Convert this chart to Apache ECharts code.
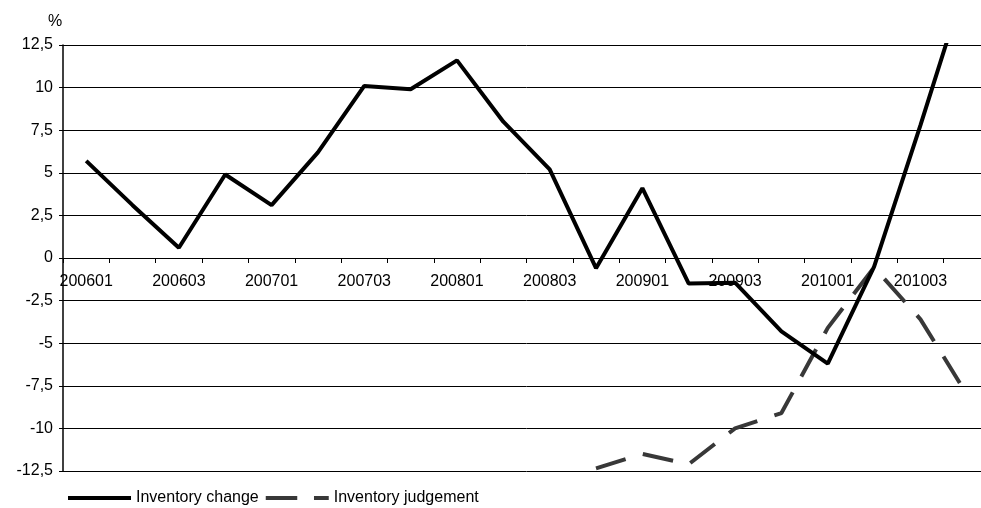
<!DOCTYPE html>
<html>
<head>
<meta charset="utf-8">
<script src="https://cdn.jsdelivr.net/npm/echarts@6/dist/echarts.min.js"></script>
<style>
html,body{margin:0;padding:0;background:#fff;overflow:hidden;}
#chart{width:991px;height:508px;}
</style>
</head>
<body>
<div id="chart"></div>
<script>
const categories = ['200601','200602','200603','200604','200701','200702','200703','200704','200801','200802','200803','200804','200901','200902','200903','200904','201001','201002','201003','201004'];
const inventoryChange = [5.7, 3.1, 0.6, 4.9, 3.1, 6.2, 10.1, 9.9, 11.6, 8.0, 5.2, -0.6, 4.1, -1.5, -1.45, -4.3, -6.2, -0.5, 7.8, 16.4];
const inventoryJudgement = [null, null, null, null, null, null, null, null, null, null, null, -12.35, -11.5, -12.1, -10.0, -9.1, -4.1, -0.55, -3.6, -8.0];
const yTicks = {min: -12.5, max: 12.5, step: 2.5};
const seriesNames = ['Inventory change', 'Inventory judgement'];

const font = 'Liberation Sans, Arial, sans-serif';
const gridTop = 45, gridBottom = 37, chartH = 508;
const gridH = chartH - gridTop - gridBottom;
const zeroOffset = -gridH * (0 - yTicks.min) / (yTicks.max - yTicks.min);

const chart = echarts.init(document.getElementById('chart'));
chart.setOption({
  animation: false,
  textStyle: {fontFamily: font, color: '#000'},
  title: {text: '%', left: 43, top: 9, textStyle: {fontFamily: font, fontSize: 16, fontWeight: 'normal', color: '#000'}},
  grid: {left: 63, right: 1, top: gridTop, bottom: gridBottom, containLabel: false},
  legend: {
    left: 68, top: 490, padding: 0, itemWidth: 63, itemHeight: 4, itemGap: 7,
    textStyle: {fontFamily: font, fontSize: 16, color: '#000'},
    data: [
      {name: seriesNames[0], icon: 'path://M0,0h64v4h-64z'},
      {name: seriesNames[1], icon: 'path://M0,0h32v4h-32z M49,0h15v4h-15z'}
    ]
  },
  xAxis: {
    type: 'category', data: categories, boundaryGap: true, position: 'bottom', offset: zeroOffset,
    axisLine: {onZero: false, lineStyle: {color: '#000', width: 1}},
    axisTick: {show: true, interval: 0, length: 5, lineStyle: {color: '#000'}},
    axisLabel: {interval: 1, margin: 16, fontSize: 16, color: '#000', fontFamily: font},
    splitLine: {show: false}
  },
  yAxis: {
    type: 'value', min: yTicks.min, max: yTicks.max, interval: yTicks.step,
    axisLine: {show: true, lineStyle: {color: '#000', width: 1.5}},
    axisTick: {show: true, length: 4, lineStyle: {color: '#000'}},
    axisLabel: {margin: 10, fontSize: 16, color: '#000', fontFamily: font,
      formatter: v => String(v).replace('.', ',')},
    splitLine: {show: true, lineStyle: {color: '#000', width: 1}}
  },
  series: [
    {name: seriesNames[0], type: 'line', data: inventoryChange, symbol: 'none', clip: true,
     lineStyle: {color: '#000', width: 4}, itemStyle: {color: '#000'}, z: 3},
    {name: seriesNames[1], type: 'line', data: inventoryJudgement, symbol: 'none', clip: true, connectNulls: false,
     lineStyle: {color: '#383838', width: 4, type: [31, 18], cap: 'butt'}, itemStyle: {color: '#383838'}, z: 2}
  ]
});
</script>
</body>
</html>
